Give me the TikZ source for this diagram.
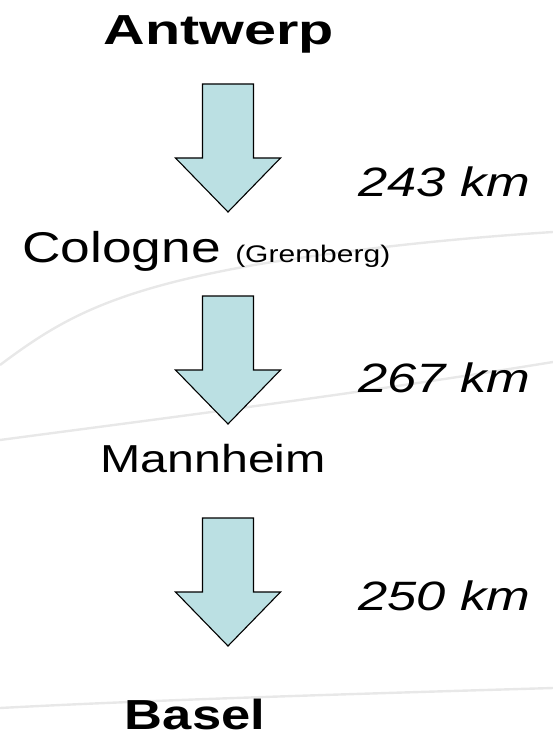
\documentclass[tikz,border=0pt]{standalone}
\usepackage{fontspec}
\setmainfont{Liberation Sans}
\begin{document}
\begin{tikzpicture}[x=1pt,y=-1pt,
  downarrow/.style={draw=black,line width=1.1pt,fill=arrowfill,line join=miter},
  city/.style={inner sep=0pt,anchor=base west,xscale=1.24,font=\fontsize{42}{48}\selectfont},
  bigcity/.style={inner sep=0pt,anchor=base,font=\fontsize{42}{48}\selectfont\bfseries},
  dist/.style={inner sep=0pt,anchor=base west,xscale=1.28,font=\fontsize{41}{47}\selectfont\itshape},
  note/.style={inner sep=0pt,anchor=base west,xscale=1.25,font=\fontsize{24}{28}\selectfont},
  swoosh/.style={draw=black!9,line width=2.4pt}]
\definecolor{arrowfill}{RGB}{187,224,227}
\useasboundingbox (0,0) rectangle (553,738);
% faint background curves
\draw[swoosh] (0,365) .. controls (60,320) and (110,290) .. (260,264) .. controls (360,248) and (460,238) .. (553,232);
\draw[swoosh] (0,440) .. controls (150,420) and (350,395) .. (553,362);
\draw[swoosh] (0,708) .. controls (150,700) and (350,694) .. (553,688);
% stations
\node[bigcity,xscale=1.37] (antwerp) at (219,45) {Antwerp};
\node[city,font=\fontsize{43}{48}\selectfont] (cologne) at (22,262) {Cologne};
\node[note] (gremberg) at (235,262) {(Gremberg)};
\node[city,font=\fontsize{39}{45}\selectfont] (mannheim) at (100,472) {Mannheim};
\node[bigcity,xscale=1.25] (basel) at (195,729) {Basel};
% distances
\node[dist] (d1) at (358,196) {243 km};
\node[dist] (d2) at (358,392) {267 km};
\node[dist] (d3) at (358,610) {250 km};
% block arrows: shaft 74 high, head 54 high
\foreach \n/\t in {a1/84,a2/296,a3/518}{
  \path[downarrow] (202.5,\t) -- (253.5,\t) -- (253.5,\t+74) -- (280.5,\t+74)
    -- (228,\t+128) -- (175.5,\t+74) -- (202.5,\t+74) -- cycle;
}
\end{tikzpicture}
\end{document}
